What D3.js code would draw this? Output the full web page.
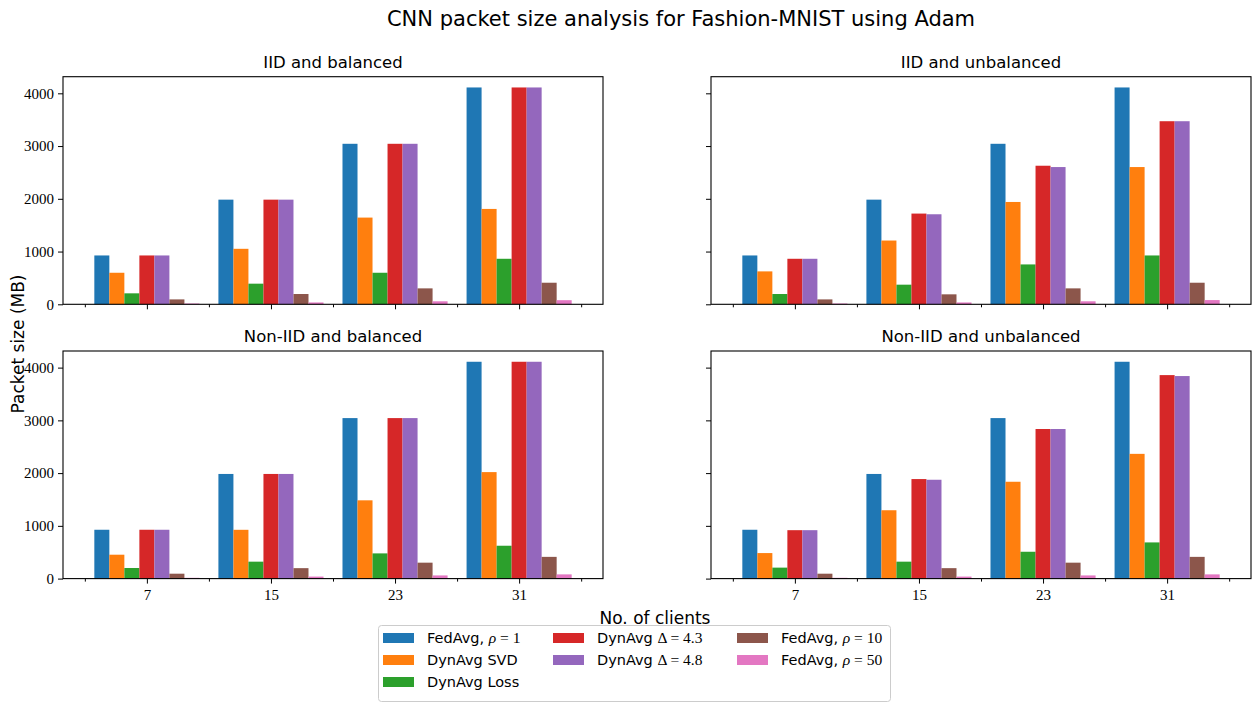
<!DOCTYPE html>
<html><head><meta charset="utf-8">
<script src="https://cdn.jsdelivr.net/npm/d3@7"></script>
<style>body{margin:0;background:#fff} svg{display:block}</style>
</head><body><svg id="chart" width="1253" height="702"></svg>
<script>
// Number of clients per experiment (x categories)
const clients = [7, 15, 23, 31];
const yTicks = [0, 1000, 2000, 3000, 4000];
const seriesColors = ["#1f77b4", "#ff7f0e", "#2ca02c", "#d62728", "#9467bd", "#8c564b", "#e377c2"];
// Legend labels split into plain text and math parts
const seriesLabels = [
  [["FedAvg, ", ""], ["ρ", "mi"], [" = 1", "m"]],
  [["DynAvg SVD", ""]],
  [["DynAvg Loss", ""]],
  [["DynAvg ", ""], ["Δ = 4.3", "m"]],
  [["DynAvg ", ""], ["Δ = 4.8", "m"]],
  [["FedAvg, ", ""], ["ρ", "mi"], [" = 10", "m"]],
  [["FedAvg, ", ""], ["ρ", "mi"], [" = 50", "m"]]
];
const panelTitles = ["IID and balanced", "IID and unbalanced", "Non-IID and balanced", "Non-IID and unbalanced"];

// Packet size (MB), one row per series, one value per client count
const iidBalanced = [
  [926, 1984, 3043, 4111],
  [598, 1052, 1644, 1808],
  [208, 391, 598, 863],
  [926, 1984, 3043, 4111],
  [926, 1984, 3043, 4111],
  [93, 195, 302, 409],
  [15, 35, 57, 78]
];
const iidUnbalanced = [
  [926, 1984, 3043, 4111],
  [624, 1209, 1940, 2602],
  [195, 372, 756, 926],
  [863, 1720, 2627, 3471],
  [863, 1707, 2602, 3471],
  [93, 189, 302, 409],
  [15, 35, 57, 80]
];
const nonIidBalanced = [
  [926, 1984, 3043, 4111],
  [453, 925, 1484, 2019],
  [201, 321, 478, 623],
  [926, 1984, 3043, 4111],
  [926, 1984, 3043, 4111],
  [93, 198, 302, 412],
  [15, 38, 60, 80]
];
const nonIidUnbalanced = [
  [926, 1984, 3043, 4111],
  [484, 1296, 1836, 2365],
  [208, 321, 509, 686],
  [918, 1887, 2836, 3858],
  [918, 1874, 2836, 3840],
  [93, 198, 302, 412],
  [15, 38, 60, 80]
];
const panelData = [iidBalanced, iidUnbalanced, nonIidBalanced, nonIidUnbalanced];

const svg = d3.select("#chart");
const colX = [63, 711], rowY = [76.7, 351];
const pw = 540, ph = 227.6;
const nSeries = seriesColors.length;
const barW = 0.121;

const x = d3.scaleLinear().domain([-0.676, 3.676]).range([0, pw]);
const y = d3.scaleLinear().domain([0, 4315]).range([ph, 0]);
const serif = "'Liberation Serif', 'DejaVu Serif', serif";
const sans = "'DejaVu Sans', sans-serif";

svg.append("text").attr("x", 681).attr("y", 26).attr("text-anchor", "middle")
  .style("font-family", sans).style("font-size", "21px").text("CNN packet size analysis for Fashion-MNIST using Adam");

panelData.forEach((data, p) => {
  const col = p % 2, row = Math.floor(p / 2);
  const g = svg.append("g").attr("transform", `translate(${colX[col]},${rowY[row]})`);

  data.forEach((vals, s) => {
    g.append("g").selectAll("rect").data(vals).join("rect")
      .attr("x", (v, i) => x(i + (s - 3) * barW - barW / 2))
      .attr("width", x(barW) - x(0))
      .attr("y", v => y(v))
      .attr("height", v => y(0) - y(v))
      .attr("fill", seriesColors[s]);
  });

  const yAxis = d3.axisLeft(y).tickValues(yTicks).tickSize(5).tickPadding(4)
    .tickFormat(col === 0 ? d3.format("d") : () => "");
  const ya = g.append("g").call(yAxis);
  ya.select(".domain").remove();
  ya.selectAll("text").style("font-family", serif).style("font-size", "15px").attr("fill", "#000");

  const xAxis = d3.axisBottom(x).tickValues([0, 1, 2, 3]).tickSize(5).tickPadding(6)
    .tickFormat(row === 1 ? (i => clients[i]) : () => "");
  const xa = g.append("g").attr("transform", `translate(0,${ph})`).call(xAxis);
  xa.select(".domain").remove();
  xa.selectAll("text").style("font-family", serif).style("font-size", "15px").attr("fill", "#000");

  const xm = g.append("g").attr("transform", `translate(0,${ph})`)
    .call(d3.axisBottom(x).tickValues([-0.5, 0.5, 1.5, 2.5, 3.5]).tickSize(3).tickFormat(() => ""));
  xm.select(".domain").remove();

  g.append("rect").attr("width", pw).attr("height", ph)
    .attr("fill", "none").attr("stroke", "#000").attr("stroke-width", 1.1);

  g.append("text").attr("x", pw / 2).attr("y", -9).attr("text-anchor", "middle")
    .style("font-family", sans).style("font-size", "16.5px").text(panelTitles[p]);
});

svg.append("text").attr("transform", "translate(24,344) rotate(-90)").attr("text-anchor", "middle")
  .style("font-family", sans).style("font-size", "17px").text("Packet size (MB)");
svg.append("text").attr("x", 655).attr("y", 624).attr("text-anchor", "middle")
  .style("font-family", sans).style("font-size", "17px").text("No. of clients");

// Legend, three columns
const legend = svg.append("g");
legend.append("rect").attr("x", 378.5).attr("y", 625.5).attr("width", 512).attr("height", 76)
  .attr("rx", 3).attr("fill", "#fff").attr("stroke", "#cccccc");
const colStart = [383, 553, 737];
const colOf = [0, 0, 0, 1, 1, 2, 2], rowOf = [0, 1, 2, 0, 1, 0, 1];
seriesLabels.forEach((parts, s) => {
  const lx = colStart[colOf[s]], ly = 638 + rowOf[s] * 22;
  legend.append("rect").attr("x", lx).attr("y", ly - 5).attr("width", 31).attr("height", 10)
    .attr("fill", seriesColors[s]);
  const t = legend.append("text").attr("x", lx + 44).attr("y", ly + 5)
    .style("font-family", sans).style("font-size", "14.5px");
  parts.forEach(([txt, kind]) => {
    const ts = t.append("tspan").text(txt);
    if (kind) ts.style("font-family", serif).style("font-size", "15.5px");
    if (kind === "mi") ts.style("font-style", "italic");
  });
});
</script></body></html>
